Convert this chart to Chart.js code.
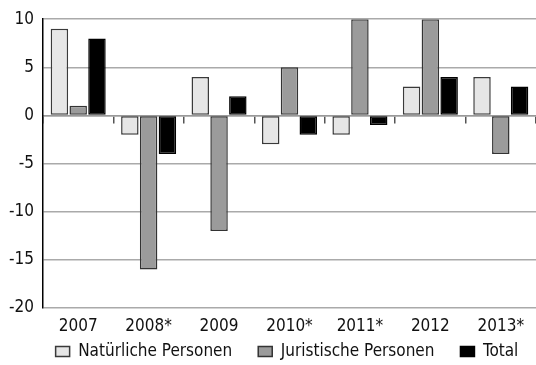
<!DOCTYPE html>
<html>
<head>
<meta charset="utf-8">
<script src="https://cdn.jsdelivr.net/npm/chart.js@4.4.1/dist/chart.umd.min.js"></script>
<style>
  html, body { margin: 0; padding: 0; background: #fff; }
  #wrap { width: 536px; height: 365px; position: relative; }
</style>
</head>
<body>
<div id="wrap"><canvas id="c"></canvas></div>
<script>
const years = ['2007', '2008*', '2009', '2010*', '2011*', '2012', '2013*'];
const natuerliche = [9, -2, 4, -3, -2, 3, 4];
const juristische = [1, -16, -12, 5, 10, 10, -4];
const total = [8, -4, 2, -2, -1, 4, 3];
const yTicks = [10, 5, 0, -5, -10, -15, -20];

const FONT = "'Liberation Sans Narrow', 'DejaVu Sans Condensed', 'Arial Narrow', sans-serif";
const FS = 17;
Chart.defaults.font.family = FONT;
Chart.defaults.font.size = FS;
Chart.defaults.color = '#111';

const barCommon = { borderWidth: 1.5, borderSkipped: false, categoryPercentage: 0.8, barPercentage: 0.93 };

// Layout tweaks: centre the legend row under the plot area, and let the
// compact category axis draw its labels below its own box.
const layoutTweaks = {
  id: 'layoutTweaks',
  afterLayout(chart) {
    const lg = chart.legend;
    if (lg) {
      const dx = Math.round((chart.chartArea.left - lg.left) / 2) - 2;
      lg.left += dx;
      lg.right += dx;
    }
    const xs = chart.scales.x;
    if (xs) xs.bottom = chart.height;
  }
};

new Chart(document.getElementById('c'), {
  type: 'bar',
  data: {
    labels: years,
    datasets: [
      { label: 'Natürliche Personen', data: natuerliche, backgroundColor: '#e6e6e6', borderColor: '#3a3a3a', ...barCommon },
      { label: 'Juristische Personen', data: juristische, backgroundColor: '#9b9b9b', borderColor: '#333', ...barCommon },
      { label: 'Total', data: total, backgroundColor: '#000', borderColor: '#000', ...barCommon }
    ]
  },
  plugins: [layoutTweaks],
  options: {
    responsive: true,
    maintainAspectRatio: false,
    animation: false,
    devicePixelRatio: 1,
    layout: { padding: { top: 10, right: 0, left: 0, bottom: 0 } },
    plugins: {
      tooltip: { enabled: false },
      legend: {
        position: 'bottom',
        fullSize: true,
        maxHeight: 48,
        labels: {
          boxWidth: 14,
          boxHeight: 10,
          padding: 26,
          color: '#111',
          font: { size: FS }
        }
      }
    },
    scales: {
      x: {
        type: 'category',
        grid: { display: false, drawTicks: false },
        border: { display: false },
        ticks: { padding: 8, color: '#111', font: { size: FS } },
        afterFit: (scale) => { scale.height = 9; }
      },
      xZero: {
        type: 'category',
        axis: 'x',
        labels: years,
        position: { y: 0 },
        offset: true,
        grid: { drawOnChartArea: false, drawTicks: true, tickLength: 7, offset: true, color: '#555', lineWidth: 1.5 },
        border: { display: true, color: '#999', width: 1.5 },
        ticks: { display: false }
      },
      y: {
        min: -20,
        max: 10,
        afterBuildTicks: (scale) => { scale.ticks = yTicks.map(v => ({ value: v })); },
        grid: { color: '#aaa', lineWidth: 1.5, drawTicks: false },
        border: { display: true, color: '#000', width: 1.5 },
        ticks: { padding: 9, color: '#111', font: { size: FS } }
      }
    }
  }
});
</script>
</body>
</html>
